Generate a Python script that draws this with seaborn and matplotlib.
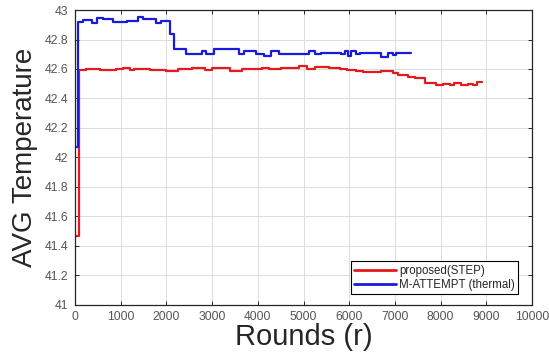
import matplotlib
matplotlib.use("Agg")
import matplotlib.pyplot as plt
import seaborn as sns
import pandas as pd
import numpy as np

# Step change points (round at which the average temperature changes)
step_rounds = [0, 90, 250, 550, 900, 1050, 1200, 1300, 1650, 1750, 2000, 2250,
               2550, 2850, 3000, 3400, 3650, 4100, 4250, 4500, 4900, 5070, 5250,
               5550, 5800, 5950, 6150, 6300, 6700, 6950, 7070, 7280, 7430, 7650,
               7900, 8050, 8200, 8300, 8450, 8600, 8700, 8800, 8900]
step_temp = [41.47, 42.59, 42.60, 42.595, 42.60, 42.61, 42.595, 42.60, 42.595,
             42.59, 42.585, 42.60, 42.61, 42.595, 42.61, 42.585, 42.60, 42.61,
             42.60, 42.61, 42.62, 42.60, 42.615, 42.61, 42.60, 42.595, 42.585,
             42.58, 42.585, 42.575, 42.56, 42.545, 42.54, 42.505, 42.49, 42.50,
             42.49, 42.505, 42.49, 42.50, 42.49, 42.51, 42.51]

attempt_rounds = [0, 70, 180, 370, 480, 610, 830, 1130, 1370, 1480, 1780, 1890,
                  2070, 2170, 2430, 2780, 2870, 3040, 3590, 3700, 3960, 4130,
                  4280, 4460, 4960, 5110, 5260, 5390, 5830, 5900, 5980, 6040,
                  6150, 6240, 6700, 6850, 6950, 7020, 7350]
attempt_temp = [42.07, 42.92, 42.932, 42.91, 42.944, 42.937, 42.921, 42.925,
                42.955, 42.937, 42.915, 42.925, 42.84, 42.733, 42.70, 42.72,
                42.70, 42.735, 42.70, 42.725, 42.70, 42.685, 42.72, 42.70,
                42.705, 42.72, 42.70, 42.71, 42.70, 42.72, 42.69, 42.72, 42.70,
                42.71, 42.68, 42.71, 42.695, 42.71, 42.71]

series_names = ["proposed(STEP)", "M-ATTEMPT (thermal)"]
series_colors = ["#e41a1c", "#1a1adc"]

x_ticks = [0, 1000, 2000, 3000, 4000, 5000, 6000, 7000, 8000, 9000, 10000]
y_ticks = [41, 41.2, 41.4, 41.6, 41.8, 42, 42.2, 42.4, 42.6, 42.8, 43]

df = pd.concat([
    pd.DataFrame({"Rounds": step_rounds, "Temp": step_temp, "Method": series_names[0]}),
    pd.DataFrame({"Rounds": attempt_rounds, "Temp": attempt_temp, "Method": series_names[1]}),
], ignore_index=True)

sns.set_style("whitegrid")
plt.rcParams["font.family"] = ["Liberation Sans", "DejaVu Sans"]

fig = plt.figure(figsize=(5.49, 3.56), dpi=100)
ax = fig.add_axes([0.1366, 0.1433, 0.8325, 0.8286])

sns.lineplot(data=df, x="Rounds", y="Temp", hue="Method", hue_order=series_names,
             palette=series_colors, estimator=None, sort=False,
             drawstyle="steps-post", linewidth=1.6, ax=ax)

ax.set_xlim(0, 10000)
ax.set_ylim(41, 43)
ax.set_xticks(x_ticks)
ax.set_yticks(y_ticks)
ax.set_xticklabels([f"{v:g}" for v in x_ticks])
ax.set_yticklabels([f"{v:g}" for v in y_ticks])

ax.grid(True, color="#dcdcdc", linewidth=0.7)
for side in ["left", "right", "top", "bottom"]:
    ax.spines[side].set_visible(True)
    ax.spines[side].set_color("#262626")
    ax.spines[side].set_linewidth(0.9)

ax.tick_params(axis="both", which="both", direction="in", length=3, width=0.7,
               color="#262626", labelsize=8.8, labelcolor="#555555",
               top=True, right=True, bottom=True, left=True, pad=4.5)

ax.set_xlabel("Rounds (r)", fontsize=21, color="#262626", labelpad=0)
ax.set_ylabel("AVG Temperature", fontsize=20, color="#262626", labelpad=5)

leg = ax.legend(loc="lower right", fontsize=8.3, frameon=True, fancybox=False,
                edgecolor="#000000", framealpha=1, handlelength=3.6,
                handletextpad=0.3, borderpad=0.3, labelspacing=0.15,
                borderaxespad=0, bbox_to_anchor=(0.97, 0.037))
leg.get_frame().set_linewidth(0.8)
for line in leg.get_lines():
    line.set_linewidth(2)

fig.savefig("out.png", dpi=100)
